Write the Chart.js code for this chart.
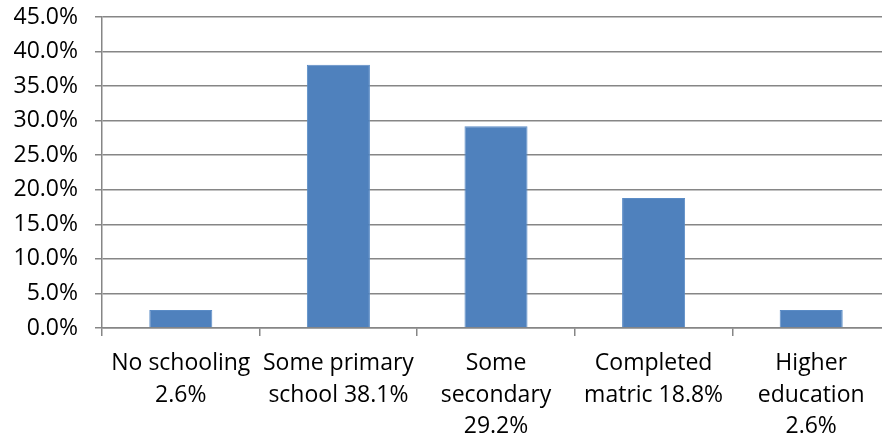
<!DOCTYPE html>
<html lang="en">
<head>
    <meta charset="UTF-8">
    <title>Education levels</title>
    <script src="https://cdn.jsdelivr.net/npm/chart.js"></script>
    <style>
        html, body { margin: 0; padding: 0; background: #fff; overflow: hidden; }
        .grafico { position: relative; width: 890px; height: 445px; }
    </style>
</head>
<body>
    <div class="grafico">
        <canvas id="myChart"></canvas>
    </div>
<script>
    // categories as multi-line labels, like the original
    const categorias = [
        ['No schooling', '2.6%'],
        ['Some primary', 'school 38.1%'],
        ['Some', 'secondary', '29.2%'],
        ['Completed', 'matric 18.8%'],
        ['Higher', 'education', '2.6%']
    ];
    const valores = [2.6, 38.1, 29.2, 18.8, 2.6];
    const yMax = 45;
    const yStep = 5;

    const cinza = '#868686';

    new Chart(document.getElementById('myChart'), {
        type: 'bar',
        data: {
            labels: categorias,
            datasets: [{
                data: valores,
                backgroundColor: '#4F81BD',
                borderColor: '#5b8cc6',
                borderWidth: 1,
                barPercentage: 0.4,
                categoryPercentage: 1.0
            }]
        },
        options: {
            responsive: true,
            maintainAspectRatio: false,
            animation: false,
            layout: { padding: { top: 17, left: 0, right: 0, bottom: 0 } },
            plugins: {
                legend: { display: false },
                tooltip: { enabled: false }
            },
            scales: {
                x: {
                    grid: {
                        offset: true,
                        drawOnChartArea: false,
                        color: cinza,
                        lineWidth: 1.5,
                        tickLength: 8
                    },
                    border: { color: cinza, width: 1.5 },
                    ticks: {
                        color: '#000',
                        font: { family: 'Open Sans', size: 23, lineHeight: 1.39 },
                        maxRotation: 0,
                        autoSkip: false,
                        padding: 11
                    },
                    afterFit: function (scale) {
                        scale.height = 117;
                        scale.paddingLeft = 0;
                        scale.paddingRight = 0;
                    }
                },
                y: {
                    min: 0,
                    max: yMax,
                    grid: { color: cinza, lineWidth: 1.5, tickLength: 7 },
                    border: { color: cinza, width: 1.5 },
                    ticks: {
                        stepSize: yStep,
                        color: '#000',
                        font: { family: 'Open Sans', size: 23 },
                        padding: 17,
                        callback: function (v) { return v.toFixed(1) + '%'; }
                    },
                    afterFit: function (scale) {
                        scale.width = 102;
                        scale.paddingTop = 0;
                        scale.paddingBottom = 0;
                    }
                }
            }
        }
    });
</script>
</body>
</html>
